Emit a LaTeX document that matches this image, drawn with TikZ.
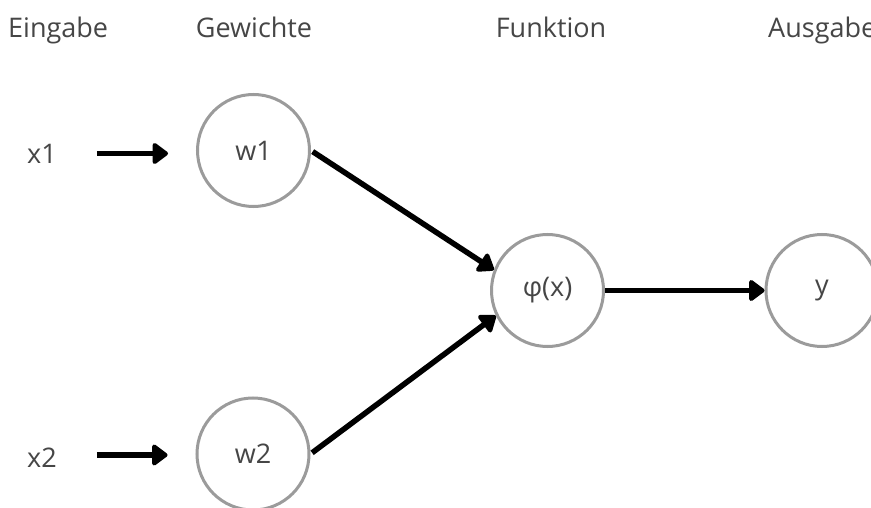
\documentclass[tikz,border=0pt]{standalone}
\usepackage{fontspec}
\setmainfont{Open Sans}
\usetikzlibrary{arrows.meta}
\definecolor{txt}{RGB}{70,70,70}
\definecolor{ring}{RGB}{155,155,155}
\tikzset{
  lbl/.style={text=txt, inner sep=0pt, font=\fontsize{27}{32}\selectfont},
  neuron/.style={circle, draw=ring, line width=3pt, minimum size=112pt, inner sep=0pt, text=txt, font=\fontsize{27}{32}\selectfont},
  arr/.style={line width=5.5pt, draw=black, -{Triangle[length=17pt,width=24pt,round]}}
}
\begin{document}
\begin{tikzpicture}[x=1pt,y=1pt]
\useasboundingbox (0,0) rectangle (871,507);
\clip (0,0) rectangle (871,507);
\fill[white] (0,0) rectangle (871,507);
% headers
\node[lbl, anchor=base west] (h1) at (8,469) {Eingabe};
\node[lbl, anchor=base] (h2) at (254,469) {Gewichte};
\node[lbl, anchor=base] (h3) at (551,469) {Funktion};
\node[lbl, anchor=base west] (h4) at (768,469) {Ausgabe};
% inputs
\node[lbl] (x1) at (42,353.5) {x1};
\node[lbl] (x2) at (42,49) {x2};
% neurons
\node[neuron] (w1) at (253.5,356.5) {w1};
\node[neuron] (w2) at (253,53) {w2};
\node[neuron] (phi) at (547.5,216.5) {φ(x)};
\node[neuron] (y) at (822,216.5) {y};
% connectors
\draw[arr, shorten <=40pt, shorten >=28pt] (x1.east) -- (x1.east -| w1.west);
\draw[arr, shorten <=40pt, shorten >=28pt] ([yshift=3pt]x2.east) -- ([yshift=3pt]x2.east -| w2.west);
\draw[arr, shorten <=2pt] (w1.east) -- (phi.159);
\draw[arr, shorten <=2pt] (w2.east) -- (phi.206);
\draw[arr] (phi.east) -- (y.west);
\end{tikzpicture}
\end{document}
